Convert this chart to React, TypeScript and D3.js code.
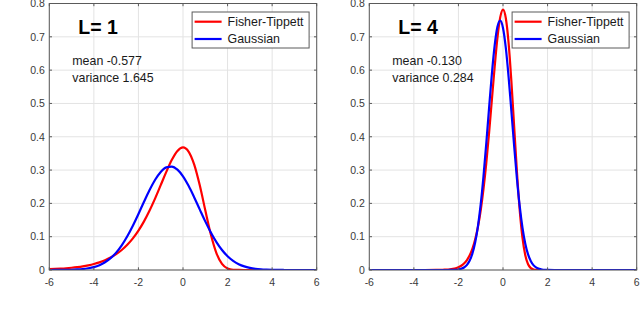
import React from "react";
import * as d3 from "d3";

// L = 1 panel, sampled every 0.25
const xL1 = [
  -6, -5.75, -5.5, -5.25, -5, -4.75, -4.5, -4.25, -4, -3.75, -3.5, -3.25,
  -3, -2.75, -2.5, -2.25, -2, -1.75, -1.5, -1.25, -1, -0.75, -0.5, -0.25,
  0, 0.25, 0.5, 0.75, 1, 1.25, 1.5, 1.75, 2, 2.25, 2.5, 2.75,
  3, 3.25, 3.5, 3.75, 4, 4.25, 4.5, 4.75, 5, 5.25, 5.5, 5.75, 6,
];
const fisherL1 = [
  0.0025, 0.0032, 0.0041, 0.0052, 0.0067, 0.0086, 0.011, 0.0141, 0.018, 0.023, 0.0293, 0.0373,
  0.0474, 0.06, 0.0756, 0.0949, 0.1182, 0.146, 0.1785, 0.2151, 0.2546, 0.2945, 0.3307, 0.3574,
  0.3679, 0.3556, 0.317, 0.2549, 0.1794, 0.1064, 0.0507, 0.0182, 0.0046, 0.0007, 0.0001, 0,
  0, 0, 0, 0, 0, 0, 0, 0, 0, 0, 0, 0, 0,
];
const gaussL1 = [
  0, 0.0001, 0.0002, 0.0004, 0.0008, 0.0016, 0.0029, 0.0052, 0.0088, 0.0146, 0.0232, 0.0355,
  0.0522, 0.074, 0.1011, 0.1328, 0.1681, 0.2047, 0.2401, 0.271, 0.2945, 0.3082, 0.3104, 0.3011,
  0.2811, 0.2526, 0.2186, 0.1821, 0.146, 0.1127, 0.0838, 0.06, 0.0413, 0.0274, 0.0175, 0.0108,
  0.0064, 0.0036, 0.002, 0.0011, 0.0005, 0.0003, 0.0001, 0, 0, 0, 0, 0, 0,
];

// L = 4 panel, finer sampling around the peak
const xL4 = [
  -6, -5, -4, -3.5,
  -3, -2.875, -2.75, -2.625, -2.5, -2.375, -2.25, -2.125,
  -2, -1.875, -1.75, -1.625, -1.5, -1.375, -1.25, -1.125,
  -1, -0.875, -0.75, -0.625, -0.5, -0.375, -0.25, -0.125,
  0, 0.125, 0.25, 0.375, 0.5, 0.625, 0.75, 0.875,
  1, 1.125, 1.25, 1.375, 1.5, 1.625, 1.75, 1.875,
  2, 2.5, 3, 4, 5, 6,
];
const fisherL4 = [
  0, 0, 0, 0,
  0.0002, 0.0003, 0.0006, 0.0009, 0.0014, 0.0022, 0.0035, 0.0054,
  0.0083, 0.0128, 0.0194, 0.0292, 0.0433, 0.0635, 0.0914, 0.1293,
  0.1794, 0.2432, 0.321, 0.4116, 0.5104, 0.6091, 0.6965, 0.7583,
  0.7815, 0.7564, 0.6822, 0.5676, 0.4311, 0.2954, 0.18, 0.0961,
  0.0442, 0.0171, 0.0055, 0.0014, 0.0003, 0, 0, 0,
  0, 0, 0, 0, 0, 0,
];
const gaussL4 = [
  0, 0, 0, 0,
  0, 0, 0, 0, 0, 0.0001, 0.0003, 0.0007,
  0.0016, 0.0035, 0.0074, 0.0146, 0.0275, 0.0489, 0.0823, 0.131,
  0.1975, 0.2818, 0.3805, 0.4863, 0.5883, 0.6735, 0.7299, 0.7486,
  0.7267, 0.6676, 0.5806, 0.4778, 0.3722, 0.2744, 0.1915, 0.1265,
  0.0791, 0.0468, 0.0262, 0.0139, 0.007, 0.0033, 0.0015, 0.0006,
  0.0003, 0, 0, 0, 0, 0,
];

const xTicks = [-6, -4, -2, 0, 2, 4, 6];
const yTicks = [0, 0.1, 0.2, 0.3, 0.4, 0.5, 0.6, 0.7, 0.8];
const legendLabels = ["Fisher-Tippett", "Gaussian"];
const colours = ["#ff0000", "#0000ff"];

const panels = [
  { title: "L= 1", mean: "mean -0.577", variance: "variance 1.645", x: xL1, fisher: fisherL1, gauss: gaussL1 },
  { title: "L= 4", mean: "mean -0.130", variance: "variance 0.284", x: xL4, fisher: fisherL4, gauss: gaussL4 },
];

const WIDTH = 640;
const HEIGHT = 309;
const PANEL_LEFT = [49.3, 369.3];
const PLOT_W = 267.4;
const TOP = 3.5;
const BOTTOM = 270;
const FONT = "'Liberation Sans', Arial, Helvetica, sans-serif";

const Panel = ({ p, left }) => {
  const x = d3.scaleLinear().domain([-6, 6]).range([left, left + PLOT_W]);
  const y = d3.scaleLinear().domain([0, 0.8]).range([BOTTOM, TOP]);
  const line = (ys) =>
    d3.line<number>()
      .x((_, i) => x(p.x[i]))
      .y((d) => y(d))
      .curve(d3.curveMonotoneX)(ys);
  const tick = 2.7;
  const clipId = `clip-${left}`;
  const legX = left + 142.8;
  const legY = 12;

  return (
    <g>
      <clipPath id={clipId}>
        <rect x={left} y={TOP} width={PLOT_W} height={BOTTOM - TOP} />
      </clipPath>
      <rect x={left} y={TOP} width={PLOT_W} height={BOTTOM - TOP} fill="#fff" />
      {/* grid */}
      {xTicks.map((t) => (
        <line key={"gx" + t} x1={x(t)} x2={x(t)} y1={TOP} y2={BOTTOM} stroke="#e3e3e3" strokeWidth={1} />
      ))}
      {yTicks.map((t) => (
        <line key={"gy" + t} x1={left} x2={left + PLOT_W} y1={y(t)} y2={y(t)} stroke="#e3e3e3" strokeWidth={1} />
      ))}
      {/* curves */}
      <g clipPath={`url(#${clipId})`}>
        <path d={line(p.fisher) || ""} fill="none" stroke={colours[0]} strokeWidth={2.2} />
        <path d={line(p.gauss) || ""} fill="none" stroke={colours[1]} strokeWidth={2.2} />
      </g>
      {/* box + ticks */}
      <rect x={left} y={TOP} width={PLOT_W} height={BOTTOM - TOP} fill="none" stroke="#5a5a5a" strokeWidth={1} />
      {xTicks.map((t) => (
        <g key={"tx" + t}>
          <line x1={x(t)} x2={x(t)} y1={BOTTOM} y2={BOTTOM - tick} stroke="#5a5a5a" />
          <line x1={x(t)} x2={x(t)} y1={TOP} y2={TOP + tick} stroke="#5a5a5a" />
          <text x={x(t)} y={285.5} textAnchor="middle" fontSize={10.5} fill="#3a3a3a" fontFamily={FONT}>
            {t}
          </text>
        </g>
      ))}
      {yTicks.map((t) => (
        <g key={"ty" + t}>
          <line x1={left} x2={left + tick} y1={y(t)} y2={y(t)} stroke="#5a5a5a" />
          <line x1={left + PLOT_W} x2={left + PLOT_W - tick} y1={y(t)} y2={y(t)} stroke="#5a5a5a" />
          <text x={left - 4.5} y={y(t) + 3.8} textAnchor="end" fontSize={10.5} fill="#3a3a3a" fontFamily={FONT}>
            {t === 0 ? "0" : t.toFixed(1)}
          </text>
        </g>
      ))}
      {/* annotations */}
      <text x={left + 29} y={34.3} fontSize={19.5} fontWeight="bold" fill="#000" fontFamily={FONT}>
        {p.title}
      </text>
      <text x={left + 23} y={65} fontSize={12.4} fill="#1a1a1a" fontFamily={FONT}>
        {p.mean}
      </text>
      <text x={left + 23} y={81.5} fontSize={12.4} fill="#1a1a1a" fontFamily={FONT}>
        {p.variance}
      </text>
      {/* legend */}
      <rect x={legX} y={legY} width={117} height={36} fill="#fff" stroke="#5a5a5a" strokeWidth={1} />
      {legendLabels.map((lab, i) => (
        <g key={lab}>
          <line x1={legX + 2.5} x2={legX + 29.5} y1={legY + 9.7 + i * 17.3} y2={legY + 9.7 + i * 17.3} stroke={colours[i]} strokeWidth={2.2} />
          <text x={legX + 35.5} y={legY + 14 + i * 17.3} fontSize={12.4} fill="#1a1a1a" fontFamily={FONT}>
            {lab}
          </text>
        </g>
      ))}
    </g>
  );
};

export default function App() {
  return (
    <svg
      width={WIDTH}
      height={HEIGHT}
      style={{ position: "absolute", left: 0, top: 0, background: "#fff" }}
    >
      <rect width={WIDTH} height={HEIGHT} fill="#fff" />
      {panels.map((p, i) => (
        <Panel key={p.title} p={p} left={PANEL_LEFT[i]} />
      ))}
    </svg>
  );
}
